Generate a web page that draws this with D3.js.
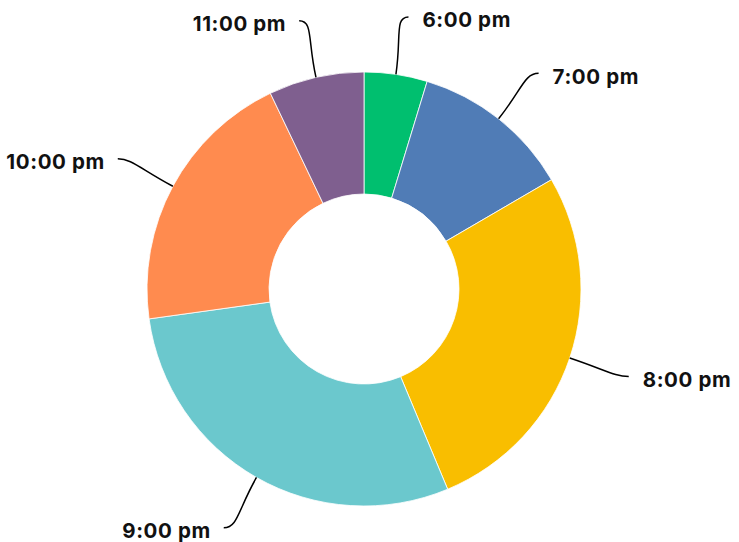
<!DOCTYPE html>
<html><head><meta charset="utf-8">
<script src="https://cdn.jsdelivr.net/npm/d3@7"></script>
<style>
html,body{margin:0;padding:0;background:#fff;}
text{font-family:Inter,"Noto Sans",sans-serif;font-weight:700;}
</style></head>
<body>
<svg id="chart" width="739" height="542"></svg>
<script>
const categories = ["6:00 pm","7:00 pm","8:00 pm","9:00 pm","10:00 pm","11:00 pm"];
const values = [4.7, 11.9, 27.1, 29.1, 20.1, 7.1];
const colors = ["#00BF6F","#507CB6","#F9BE00","#6BC8CD","#FF8B4F","#7F5F8F"];

const data = categories.map((c,i)=>({label:c, value:values[i], color:colors[i]}));
const svg = d3.select("#chart");
const cx = 364, cy = 289, R = 217, r0 = 95;
const g = svg.append("g").attr("transform",`translate(${cx},${cy})`);

const pie = d3.pie().value(d=>d.value).sort(null);
const arcs = pie(data);
const arc = d3.arc().innerRadius(r0).outerRadius(R);

g.selectAll("path.slice").data(arcs).join("path")
  .attr("class","slice")
  .attr("d",arc)
  .attr("fill",d=>d.data.color)
  .attr("stroke","#fff").attr("stroke-width",0.8);

function pt(a, rad){ return [Math.sin(a)*rad, -Math.cos(a)*rad]; }

arcs.forEach(d=>{
  const m = (d.startAngle+d.endAngle)/2;
  const p0 = pt(m, R);
  const side = Math.sin(m) >= 0 ? 1 : -1;
  const pe = pt(m, 275);
  pe[0] += side*4;
  const c1 = pt(m, R+38);
  const c2 = [pe[0]-side*14, pe[1]];
  g.append("path")
    .attr("d",`M${p0[0]},${p0[1]}C${c1[0]},${c1[1]} ${c2[0]},${c2[1]} ${pe[0]},${pe[1]}`)
    .attr("fill","none").attr("stroke","#000").attr("stroke-width",1.5);
  g.append("text")
    .attr("x",pe[0]+side*(side>0?14:13)).attr("y",pe[1]+3)
    .attr("dy","0.36em")
    .attr("text-anchor", side>0 ? "start":"end")
    .attr("font-size",20.5)
    .attr("letter-spacing","0.6px")
    .attr("fill","#111")
    .text(d.data.label);
});
</script>
</body></html>
